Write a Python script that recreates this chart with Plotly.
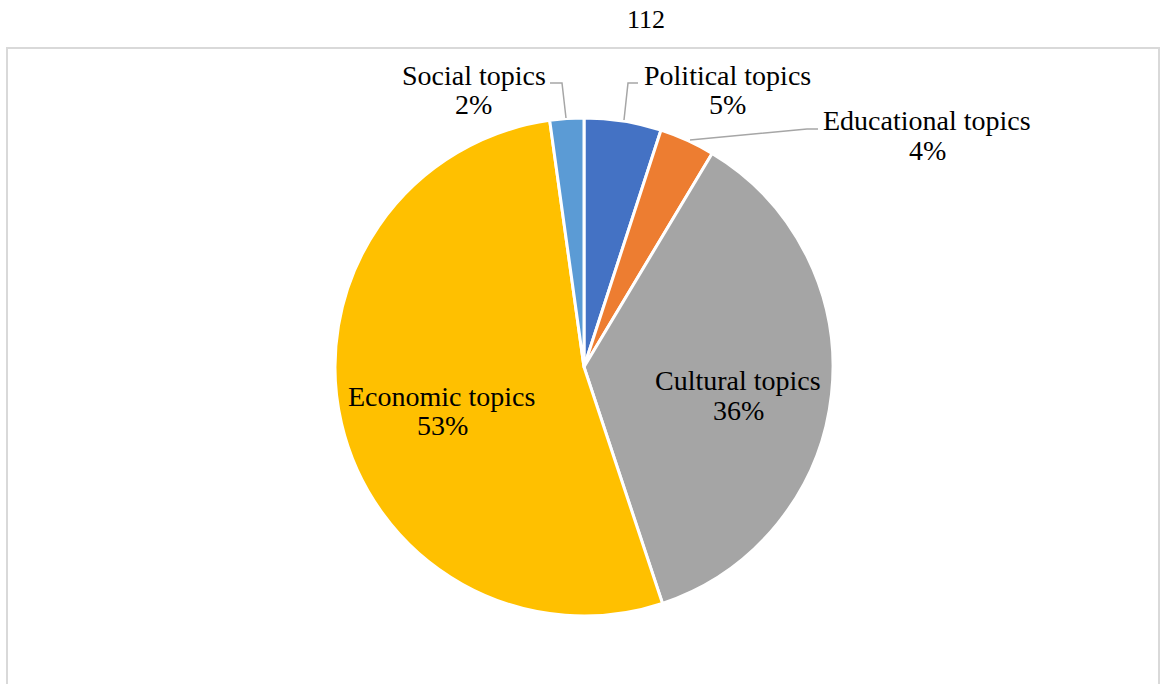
import plotly.graph_objects as go

# ---- data ----
categories = ["Political topics", "Educational topics", "Cultural topics", "Economic topics", "Social topics"]
values = [5.0, 3.6, 36.3, 52.9, 2.2]
colors = ["#4472C4", "#ED7D31", "#A5A5A5", "#FFC000", "#5B9BD5"]
title_text = "112"

W, H = 1161, 684
FONT = "Liberation Serif, Times New Roman, serif"


def px(x):
    return x / W


def py(y):
    return 1 - y / H


total = sum(values)
pcts = [f"{round(v / total * 100)}%" for v in values]

fig = go.Figure(
    go.Pie(
        labels=categories,
        values=values,
        sort=False,
        direction="clockwise",
        rotation=0,
        marker=dict(colors=colors, line=dict(color="white", width=3)),
        textinfo="none",
        hoverinfo="label+percent",
        showlegend=False,
        domain=dict(x=[px(335), px(833)], y=[py(616), py(118)]),
    )
)

# label positions (centre of label line, centre of percent line) in pixels
label_pos = {
    "Political topics": ((727, 75), (727, 104)),
    "Educational topics": ((927, 120), (927, 150)),
    "Cultural topics": ((738, 381), (738, 410)),
    "Economic topics": ((441, 396), (442, 425)),
    "Social topics": ((474, 75), (473, 104)),
}

annotations = []
for cat, pct in zip(categories, pcts):
    (x1, y1), (x2, y2) = label_pos[cat]
    for txt, (xx, yy) in ((cat, (x1, y1)), (pct, (x2, y2))):
        annotations.append(
            dict(
                x=px(xx), y=py(yy), xref="paper", yref="paper",
                text=txt, showarrow=False, xanchor="center", yanchor="middle",
                font=dict(family=FONT, size=28, color="#000000"),
            )
        )

annotations.append(
    dict(
        x=px(646), y=py(20), xref="paper", yref="paper", text=title_text,
        showarrow=False, xanchor="center", yanchor="middle",
        font=dict(family=FONT, size=26, color="#000000"),
    )
)


def path(points):
    return "M " + " L ".join(f"{px(x)},{py(y)}" for x, y in points)


leaders = [
    [(566, 118), (562, 83), (550, 83)],
    [(624, 120), (628, 83), (638, 83)],
    [(690, 140), (807, 129), (818, 129)],
]
shapes = [
    dict(type="path", xref="paper", yref="paper", path=path(p),
         line=dict(color="#A6A6A6", width=1.5))
    for p in leaders
]
shapes.append(
    dict(type="rect", xref="paper", yref="paper",
         x0=px(7), x1=px(1159), y0=py(700), y1=py(48),
         line=dict(color="#D9D9D9", width=2), fillcolor="rgba(0,0,0,0)", layer="below")
)

fig.update_layout(
    width=W, height=H,
    margin=dict(l=0, r=0, t=0, b=0),
    paper_bgcolor="white",
    plot_bgcolor="white",
    annotations=annotations,
    shapes=shapes,
)

fig.write_html(
    "out.html",
    config={"displayModeBar": False},
    post_script="document.body.style.margin='0';document.body.style.overflow='hidden';",
)
